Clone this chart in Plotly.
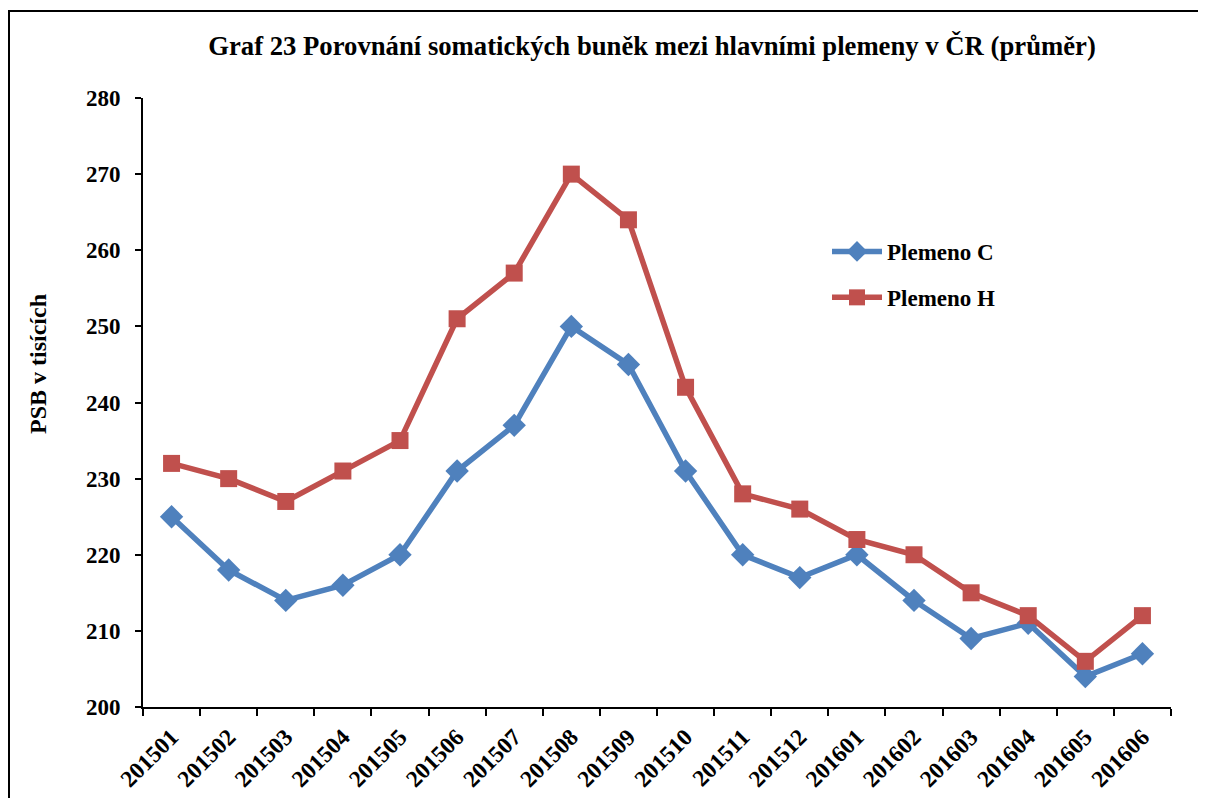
import plotly.graph_objects as go

categories = ["201501", "201502", "201503", "201504", "201505", "201506", "201507", "201508", "201509",
              "201510", "201511", "201512", "201601", "201602", "201603", "201604", "201605", "201606"]
plemeno_c = [225, 218, 214, 216, 220, 231, 237, 250, 245, 231, 220, 217, 220, 214, 209, 211, 204, 207]
plemeno_h = [232, 230, 227, 231, 235, 251, 257, 270, 264, 242, 228, 226, 222, 220, 215, 212, 206, 212]
y_ticks = [200, 210, 220, 230, 240, 250, 260, 270, 280]

FONT = "Liberation Serif"
OFF = 8  # page body margin
W, H = 1206, 798
# target plot area in window pixels: x 143..1171, y 98..707
L = 143 - OFF
T = 98 - OFF
R = W - (1171 - OFF)
B = H - (707 - OFF)
pw = W - L - R
ph = H - T - B


def px_x(px):
    return (px - OFF - L) / pw


def px_y(py):
    return (H - B - (py - OFF)) / ph


fig = go.Figure()
fig.add_trace(go.Scatter(
    x=categories, y=plemeno_c, name="Plemeno C", mode="lines+markers", legendgroup="c",
    line=dict(color="#4F81BD", width=5.5),
    marker=dict(symbol="diamond", size=18, color="#4F81BD"),
))
fig.add_trace(go.Scatter(
    x=categories, y=plemeno_h, name="Plemeno H", mode="lines+markers", legendgroup="h",
    line=dict(color="#C0504D", width=5.5),
    marker=dict(symbol="square", size=17, color="#C0504D"),
))

fig.add_shape(type="rect", xref="paper", yref="paper",
              x0=px_x(9), x1=1.3, y0=-0.6, y1=px_y(11),
              line=dict(color="black", width=2), layer="below")

fig.add_annotation(text="PSB v tisících", xref="paper", yref="paper",
                   x=px_x(38), y=px_y(364), xanchor="center", yanchor="middle",
                   textangle=-90, showarrow=False,
                   font=dict(family=FONT, size=24, color="black", weight="bold"))

fig.update_layout(
    width=W, height=H,
    margin=dict(l=L, r=R, t=T, b=B),
    paper_bgcolor="white", plot_bgcolor="white",
    font=dict(family=FONT, color="black", size=20, weight="bold"),
    title=dict(text="Graf 23 Porovnání somatických buněk mezi hlavními plemeny v ČR (průměr)",
               x=px_x(652), xref="paper", xanchor="center", y=1 - (46 - OFF) / H, yanchor="middle",
               font=dict(family=FONT, size=26.7, color="black", weight="bold")),
    showlegend=True,
    legend=dict(x=px_x(827), y=px_y(230), xanchor="left", yanchor="top",
                bgcolor="rgba(0,0,0,0)",
                font=dict(family=FONT, size=23, color="black", weight="bold"),
                tracegroupgap=13, itemwidth=50),
    xaxis=dict(type="category", range=[-0.5, len(categories) - 0.5],
               showline=True, linecolor="black", linewidth=2,
               ticks="outside", tickson="boundaries", ticklen=7, tickcolor="black", tickwidth=2,
               tickangle=-45, showgrid=False, zeroline=False, ticklabelstandoff=5,
               tickfont=dict(family=FONT, size=23.5, color="black", weight="bold")),
    yaxis=dict(range=[200, 280], tickvals=y_ticks,
               showline=True, linecolor="black", linewidth=2,
               ticks="outside", ticklen=6, tickcolor="black", tickwidth=2,
               showgrid=False, zeroline=False, ticklabelstandoff=10,
               tickfont=dict(family=FONT, size=23, color="black", weight="bold")),
)

fig.write_html("out.html")
